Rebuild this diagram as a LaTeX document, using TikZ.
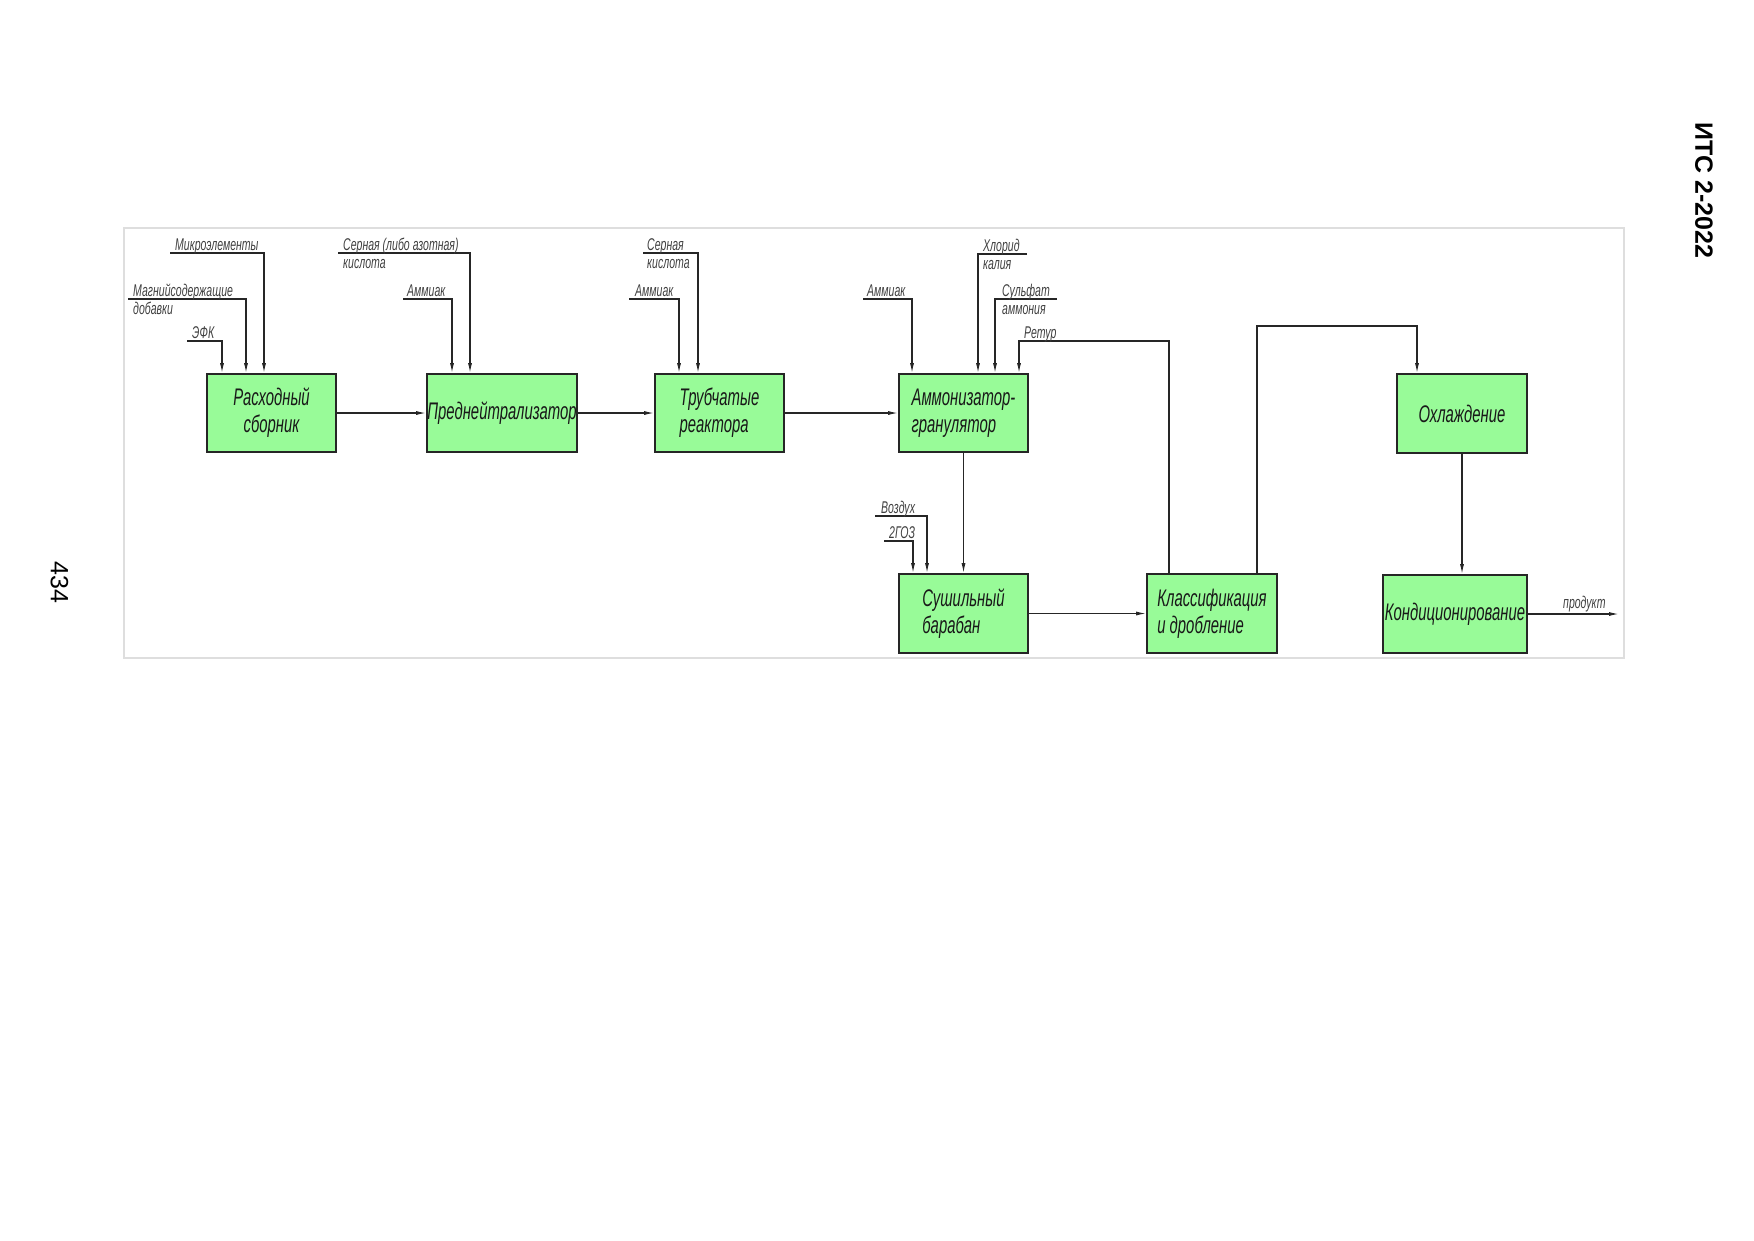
\documentclass[tikz,border=0pt]{standalone}
\usepackage{fontspec}
\setmainfont{Liberation Sans}
\newfontfamily\gost[FakeStretch=0.62]{Liberation Sans Italic}
\usetikzlibrary{arrows.meta,calc}
\definecolor{boxgreen}{RGB}{152,251,152}
\begin{document}
\begin{tikzpicture}[x=1pt,y=-1pt,
  box/.style={draw=black!85, line width=1.6pt, fill=boxgreen, inner sep=0pt,
    font=\gost\fontsize{24}{27}\selectfont, text=black!90, minimum height=78pt},
  lbl/.style={inner sep=0pt, anchor=base west, font=\gost\fontsize{17}{19}\selectfont, text=black!75},
  flow/.style={draw=black!85, line width=1.2pt, -{Latex[length=10pt,width=4pt]}},
  frame/.style={draw=black!13, line width=2pt}]
\useasboundingbox (0,0) rectangle (1754,1240);
\draw[frame] (124,228) rectangle (1624,658);

% header and page number
\node[rotate=-90, font=\bfseries\fontsize{25}{25}\selectfont] (hdr) at (1704,190.5) {ИТС 2-2022};
\node[rotate=-90, font=\fontsize{25}{25}\selectfont] (pg) at (59.5,582.5) {434};

% boxes
\node[box, minimum width=129pt, align=center] (A) at (271.5,413) {Расходный\\сборник};
\node[box, minimum width=150pt] (B) at (502,413) {Преднейтрализатор};
\node[box, minimum width=129pt, align=left] (C) at (719.5,413) {Трубчатые\\реактора};
\node[box, minimum width=129pt, align=left] (D) at (963.5,413) {Аммонизатор-\\гранулятор};
\node[box, minimum width=129pt, minimum height=79pt, align=left] (E) at (963.5,613.5) {Сушильный\\барабан};
\node[box, minimum width=130pt, minimum height=79pt, align=left] (F) at (1212,613.5) {Классификация\\и дробление};
\node[box, minimum width=130pt, minimum height=79pt] (G) at (1462,413.5) {Охлаждение};
\node[box, minimum width=144pt] (H) at (1455,614) {Кондиционирование};

% main flow
\draw[flow] (A.east) -- (B.west);
\draw[flow] (B.east) -- (C.west);
\draw[flow] (C.east) -- (D.west);
\draw[flow] (D.south) -- (E.north);
\draw[flow] (E.east) -- (F.west);
\draw[flow] (G.south) -- (G.south |- H.north);
\coordinate (out) at (1619,614);
\draw[flow] (H.east) -- (out);
\node[lbl] (lout) at (1563,608) {продукт};

% F -> G
\coordinate (k1) at (1257,326);
\coordinate (k2) at (1417,326);
\draw[flow] (F.north -| k1) -- (k1) -- (k2) -- (k2 |- G.north);

% recycle F -> D
\coordinate (r1) at (1169,341);
\coordinate (r2) at (1019,341);
\draw[flow] (F.north -| r1) -- (r1) -- (r2) -- (r2 |- D.north);
\node[lbl] (lr) at (1024,338) {Ретур};

% inputs to A
\coordinate (a1s) at (170,253); \coordinate (a1c) at (264,253);
\draw[flow] (a1s) -- (a1c) -- (a1c |- A.north);
\node[lbl] (la1) at (175,250) {Микроэлементы};
\coordinate (a2s) at (128,299); \coordinate (a2c) at (246,299);
\draw[flow] (a2s) -- (a2c) -- (a2c |- A.north);
\node[lbl] (la2) at (133,296) {Магнийсодержащие};
\node[lbl] (la2b) at (133,314) {добавки};
\coordinate (a3s) at (187,341); \coordinate (a3c) at (222,341);
\draw[flow] (a3s) -- (a3c) -- (a3c |- A.north);
\node[lbl] (la3) at (192,338) {ЭФК};

% inputs to B
\coordinate (b1s) at (338,253); \coordinate (b1c) at (470,253);
\draw[flow] (b1s) -- (b1c) -- (b1c |- B.north);
\node[lbl] (lb1) at (343,250) {Серная (либо азотная)};
\node[lbl] (lb1b) at (343,268) {кислота};
\coordinate (b2s) at (403,299); \coordinate (b2c) at (452,299);
\draw[flow] (b2s) -- (b2c) -- (b2c |- B.north);
\node[lbl] (lb2) at (407,296) {Аммиак};

% inputs to C
\coordinate (c1s) at (643,253); \coordinate (c1c) at (698,253);
\draw[flow] (c1s) -- (c1c) -- (c1c |- C.north);
\node[lbl] (lc1) at (647,250) {Серная};
\node[lbl] (lc1b) at (647,268) {кислота};
\coordinate (c2s) at (629,299); \coordinate (c2c) at (679,299);
\draw[flow] (c2s) -- (c2c) -- (c2c |- C.north);
\node[lbl] (lc2) at (635,296) {Аммиак};

% inputs to D
\coordinate (d1s) at (863,299); \coordinate (d1c) at (912,299);
\draw[flow] (d1s) -- (d1c) -- (d1c |- D.north);
\node[lbl] (ld1) at (867,296) {Аммиак};
\coordinate (d2s) at (1027,254); \coordinate (d2c) at (978,254);
\draw[flow] (d2s) -- (d2c) -- (d2c |- D.north);
\node[lbl] (ld2) at (983,251) {Хлорид};
\node[lbl] (ld2b) at (983,269) {калия};
\coordinate (d3s) at (1057,299); \coordinate (d3c) at (995,299);
\draw[flow] (d3s) -- (d3c) -- (d3c |- D.north);
\node[lbl] (ld3) at (1002,296) {Сульфат};
\node[lbl] (ld3b) at (1002,314) {аммония};

% inputs to E
\coordinate (e1s) at (875,516); \coordinate (e1c) at (927,516);
\draw[flow] (e1s) -- (e1c) -- (e1c |- E.north);
\node[lbl] (le1) at (881,513) {Воздух};
\coordinate (e2s) at (884,541); \coordinate (e2c) at (913,541);
\draw[flow] (e2s) -- (e2c) -- (e2c |- E.north);
\node[lbl] (le2) at (889,538) {2ГОЗ};
\end{tikzpicture}
\end{document}
